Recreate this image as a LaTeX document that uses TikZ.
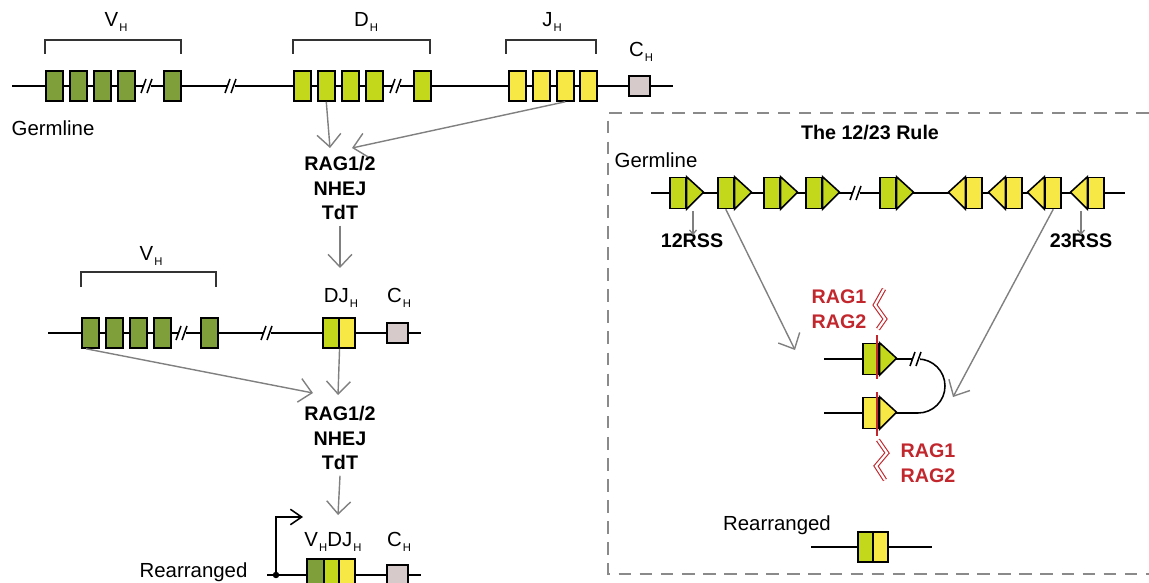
\documentclass[tikz,border=0pt]{standalone}
\usepackage{fontspec}
\setmainfont{Liberation Sans}
\usepackage{xcolor}
\usetikzlibrary{arrows.meta}
\definecolor{vgreen}{HTML}{7F9F3B}
\definecolor{dlime}{HTML}{C4D81B}
\definecolor{jyellow}{HTML}{F8E845}
\definecolor{cgray}{HTML}{D6CACA}
\definecolor{ragred}{HTML}{C1272D}
\definecolor{arrgray}{HTML}{808080}
\definecolor{boxgray}{HTML}{8A8A8A}
\newcommand{\hsub}[1]{\kern0.8pt\raisebox{-3.5pt}{\fontsize{8}{8}\selectfont #1}}

\begin{document}
\begin{tikzpicture}[x=0.025cm, y=-0.025cm,
    dna/.style={line width=1.1pt},
    seg/.style={draw, line width=1.1pt, inner sep=0pt, anchor=west,
      minimum width=0.425cm, minimum height=0.75cm},
    rss/.style={draw, line width=1.1pt, inner sep=0pt,
      minimum width=0.4cm, minimum height=0.775cm},
    cseg/.style={draw, line width=1.1pt, inner sep=0pt, fill=cgray, anchor=west,
      minimum width=0.525cm, minimum height=0.5cm},
    bracket/.style={draw=black!80, line width=1.1pt},
    lbl/.style={font=\fontsize{14.5}{17}\selectfont, inner sep=1pt},
    enz/.style={font=\fontsize{14}{17.5}\selectfont\bfseries, align=center, inner sep=1pt},
    ragtxt/.style={font=\fontsize{14}{17.5}\selectfont\bfseries, text=ragred, align=left, inner sep=1pt},
    garr/.style={draw=arrgray, line width=1pt, -{Straight Barb[length=9pt,width=17pt]}},
    sarr/.style={draw=arrgray, line width=0.9pt, -{Straight Barb[length=3pt,width=5pt]}},
    zig/.style={ragred, line width=0.8pt, double=white, double distance=1.6pt, line join=miter}]
  \useasboundingbox (0,0) rectangle (1149,583);

  % 12/23 rule frame
  \draw[boxgray, line width=1.1pt, dash pattern=on 9pt off 6pt]
    (1170,113) -- (608,113) -- (608,574) -- (1170,574);
  \node[enz] (rule) at (870,133) {The 12/23 Rule};

  % Germline locus
  \draw[dna] (12,86) -- (673,86);
  \node[lbl, anchor=west] (germ) at (10,128) {Germline};
  \foreach \x [count=\i] in {45,69,93,117,163}
    \node[seg, fill=vgreen] (v\i) at (\x,86) {};
  \foreach \x [count=\i] in {293,317,341,365,413}
    \node[seg, fill=dlime] (d\i) at (\x,86) {};
  \foreach \x [count=\i] in {508,532,556,579}
    \node[seg, fill=jyellow] (j\i) at (\x,86) {};
  \node[cseg] (c1) at (628,86) {};
  \draw[bracket] (45,54) -- (45,40) -- (181,40) -- (181,54);
  \draw[bracket] (293,54) -- (293,40) -- (430,40) -- (430,54);
  \draw[bracket] (506,54) -- (506,40) -- (596,40) -- (596,54);
  \node[lbl] (vlab) at (116,22) {V\hsub{H}};
  \node[lbl] (dlab) at (366,22) {D\hsub{H}};
  \node[lbl] (jlab) at (552,22) {J\hsub{H}};
  \node[lbl] (clab) at (641,52) {C\hsub{H}};

  % D-J joining
  \node[enz] (rag1) at (340,188) {RAG1/2\\NHEJ\\TdT};
  \coordinate (t1) at (330,148);
  \coordinate (t2) at (352,148);
  \coordinate (t3) at (340,268);
  \draw[garr] (d2.south) -- (t1);
  \draw[garr] (j3.south) -- (t2);
  \draw[garr] ([yshift=-3pt]rag1.south) -- (t3);

  % DJ locus
  \draw[dna] (48,333) -- (421,333);
  \foreach \x [count=\i] in {81,105,129,153,200}
    \node[seg, fill=vgreen] (w\i) at (\x,333) {};
  \node[seg, fill=dlime, minimum width=0.4cm] (dj1) at (322,333) {};
  \node[seg, fill=jyellow, minimum width=0.4cm] (dj2) at (338,333) {};
  \node[cseg] (c2) at (386,333) {};
  \draw[bracket] (81,287) -- (81,272) -- (216,272) -- (216,287);
  \node[lbl] (vlab2) at (151,256) {V\hsub{H}};
  \node[lbl] (djlab) at (341,298) {DJ\hsub{H}};
  \node[lbl] (clab2) at (399,298) {C\hsub{H}};

  % V-DJ joining
  \node[enz] (rag2) at (340,438) {RAG1/2\\NHEJ\\TdT};
  \coordinate (t4) at (313,393);
  \coordinate (t5) at (338,395);
  \coordinate (t6) at (338,515);
  \draw[garr] ([xshift=-3pt]w1.south) -- (t4);
  \draw[garr] (dj1.south east) -- (t5);
  \draw[garr] ([yshift=-3pt]rag2.south) -- (t6);

  % Rearranged locus
  \draw[dna] (267,575) -- (421,575);
  \node[lbl, anchor=west] (rearr) at (138,572) {Rearranged};
  \node[seg, fill=vgreen] (vdj1) at (306,574) {};
  \node[seg, fill=dlime, minimum width=0.375cm] (vdj2) at (323,574) {};
  \node[seg, fill=jyellow, minimum width=0.4cm] (vdj3) at (338,574) {};
  \node[cseg] (c3) at (386,575) {};
  \node[lbl] (vdjlab) at (333,542) {V\hsub{H}DJ\hsub{H}};
  \node[lbl] (clab3) at (399,542) {C\hsub{H}};
  \fill (276,575) circle (2.3pt);
  \coordinate (prom) at (276,575);
  \coordinate (start) at (303,517);
  \draw[line width=1.1pt, -{Straight Barb[length=8pt,width=11pt]}] (prom) |- (start);

  % RSS locus
  \node[lbl, anchor=west] (germ2) at (613,160) {Germline};
  \draw[dna] (651,193) -- (1125,193);
  \foreach \x/\n in {669/a,717/b,763/c,805/d,879/e} {
    \node[rss, fill=dlime, anchor=west] (r\n) at (\x,193) {};
    \draw[line width=1.1pt, fill=dlime, line join=miter]
      (r\n.north east) -- ++(17,15.5) -- (r\n.south east) -- cycle;
  }
  \foreach \x/\n in {983/f,1023/g,1062/h,1105/k} {
    \node[rss, fill=jyellow, anchor=east] (r\n) at (\x,193) {};
    \draw[line width=1.1pt, fill=jyellow, line join=miter]
      (r\n.north west) -- ++(-17,15.5) -- (r\n.south west) -- cycle;
  }
  \node[enz] (rss12) at (692,241) {12RSS};
  \node[enz] (rss23) at (1081,241) {23RSS};
  \coordinate (a12) at (693,211);
  \coordinate (a23) at (1081,211);
  \draw[sarr] (a12) -- ([yshift=-2pt]rss12.north -| a12);
  \draw[sarr] (a23) -- ([yshift=-2pt]rss23.north -| a23);

  % Hairpin
  \draw[dna] (824,359) -- (918,359) arc[start angle=90, end angle=-90, radius=0.675cm] -- (824,413);
  \node[rss, fill=dlime, anchor=west] (hp1) at (862,359) {};
  \draw[line width=1.1pt, fill=dlime, line join=miter]
    (hp1.north east) -- ++(17,15.5) -- (hp1.south east) -- cycle;
  \node[rss, fill=jyellow, anchor=west] (hp2) at (862,413) {};
  \draw[line width=1.1pt, fill=jyellow, line join=miter]
    (hp2.north east) -- ++(17,15.5) -- (hp2.south east) -- cycle;
  \coordinate (t7) at (795,350);
  \coordinate (t8) at (953,397);
  \draw[garr] (rb.south) -- (t7);
  \draw[garr] (rh.south) -- (t8);

  % Cleavage sites
  \draw[ragred, line width=1pt] (877,335) -- (877,379);
  \draw[ragred, line width=1pt] (877,392) -- (877,436);
  \draw[zig] (884,289) -- (875,305) -- (885,319) -- (878,329);
  \draw[zig] (878,440) -- (887,453) -- (876,466) -- (885,480);
  \node[ragtxt] (ragt) at (839,309) {RAG1\\RAG2};
  \node[ragtxt] (ragb) at (928,463) {RAG1\\RAG2};

  % Rearranged RSS
  \node[lbl] (rearr2) at (777,525) {Rearranged};
  \draw[dna] (811,547) -- (932,547);
  \node[seg, fill=dlime, minimum width=0.375cm] (rj1) at (857,547) {};
  \node[seg, fill=jyellow, minimum width=0.375cm] (rj2) at (872,547) {};

  % Break marks
  \foreach \bx/\by in {148/86,232/86,397/86,183/333,268/333,857/193,917/359} {
    \fill[white] (\bx-4,\by-3) rectangle (\bx+3,\by+3);
    \draw[line width=1.1pt] (\bx-7,\by+7) -- (\bx-2,\by-7) (\bx-1,\by+7) -- (\bx+4,\by-7);
  }
\end{tikzpicture}
\end{document}
